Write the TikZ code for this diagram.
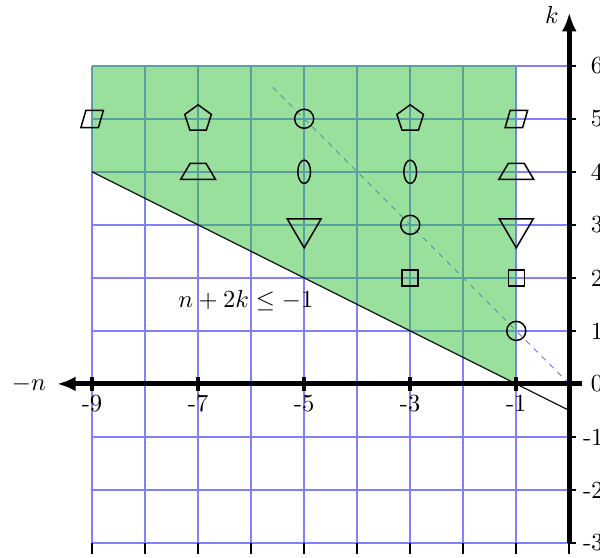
\documentclass[tikz,border=0pt]{standalone}
\usetikzlibrary{arrows.meta}
\definecolor{gridblue}{RGB}{128,128,255}
\definecolor{regiongreen}{RGB}{51,193,60}
\tikzset{
  lbl/.style={scale=1.32, inner sep=0pt},
  gridline/.style={gridblue, line width=1.1pt},
  axisline/.style={black, line width=2.6pt, -{Latex[length=10pt,width=8pt]}},
  marker/.style={black, line width=0.8pt},
  para/.pic={\draw[marker] (-0.115,0.16) -- (0.215,0.16) -- (0.12,-0.165) -- (-0.21,-0.165) -- cycle;},
  penta/.pic={\draw[marker] (90:0.264) -- (162:0.264) -- (234:0.264) -- (306:0.264) -- (18:0.264) -- cycle;},
  trap/.pic={\draw[marker] (-0.151,0.157) -- (0.151,0.157) -- (0.33,-0.145) -- (-0.33,-0.145) -- cycle;},
  tri/.pic={\draw[marker] (-0.32,0.113) -- (0.32,0.113) -- (0,-0.434) -- cycle;},
  sq/.pic={\draw[marker] (-0.151,-0.151) rectangle (0.151,0.151);},
  circ/.pic={\draw[marker] (0,0) circle (0.18);},
  ell/.pic={\draw[marker] (0,0) ellipse [x radius=0.12, y radius=0.22];}
}
\begin{document}
\begin{tikzpicture}[x=1cm,y=1cm]
\useasboundingbox (-10.736,-3.27) rectangle (0.579,7.24);
% grid
\foreach \x in {-9,...,-1} \draw[gridline] (\x,-3) -- (\x,6);
\foreach \y in {-3,...,6} \draw[gridline] (-9,\y) -- (0,\y);
% dashed line n+k=0
\coordinate (O) at (0,0);
\coordinate (dEnd) at (-5.62,5.62);
\draw[gridblue, dashed, line width=0.6pt] (O) -- (dEnd);
% region
\fill[regiongreen, fill opacity=0.5] (-9,6) -- (-1,6) -- (-1,0) -- (-9,4) -- cycle;
% boundary line n+2k=-1
\coordinate (bA) at (-9,4);
\coordinate (bB) at (0,-0.5);
\draw[black, line width=0.6pt] (bA) -- (bB);
% markers
\pic at (-9,5) {para};
\pic at (-1,5) {para};
\pic at (-7,5) {penta};
\pic at (-3,5) {penta};
\pic at (-5,5) {circ};
\pic at (-3,3) {circ};
\pic at (-1,1) {circ};
\pic at (-7,4) {trap};
\pic at (-1,4) {trap};
\pic at (-5,4) {ell};
\pic at (-3,4) {ell};
\pic at (-5,3) {tri};
\pic at (-1,3) {tri};
\pic at (-3,2) {sq};
\pic at (-1,2) {sq};
% axes
\coordinate (xR) at (0.24,0);
\coordinate (xL) at (-9.66,0);
\coordinate (yB) at (0,-3);
\coordinate (yT) at (0,7.0);
\draw[axisline] (xR) -- (xL);
\draw[axisline] (yB) -- (yT);
% ticks
\foreach \x in {-9,-7,-5,-3,-1} {
  \draw[black, line width=2.2pt] (\x,-0.13) -- (\x,0.13);
  \node[lbl] (xl\x) at (\x,-0.37) {\x};
}
\foreach \x in {-9,...,0} \draw[black, line width=1pt] (\x,-3) -- (\x,-3.21);
\foreach \y in {-3,...,6} \draw[black, line width=1pt] (0,\y) -- (0.12,\y);
\foreach \y in {0,...,6} \node[lbl, anchor=west] (yl\y) at (0.40,\y) {\y};
\foreach \y in {-1,-2,-3} \node[lbl, anchor=west] (yl\y) at (0.25,\y) {\y};
% labels
\node[lbl] (nlab) at (-10.19,0) {$-n$};
\node[lbl] (klab) at (-0.33,6.96) {$k$};
\node[lbl] (ineq) at (-6.1,1.57) {$n+2k\leq -1$};
\end{tikzpicture}
\end{document}
